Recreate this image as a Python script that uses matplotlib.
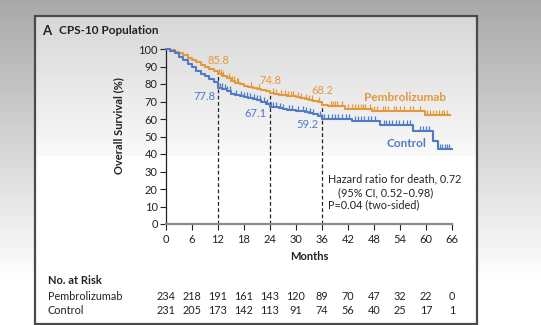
import matplotlib
matplotlib.use("Agg")
import matplotlib.pyplot as plt
import matplotlib.transforms as mtransforms
from matplotlib.patches import Rectangle
from matplotlib.path import Path
import numpy as np

plt.rcParams['font.family'] = ['Lato', 'DejaVu Sans']

ORANGE = '#E3983A'
BLUE = '#4E7AC6'

# Kaplan-Meier curves (month, % alive)
pem_t = [0, 1, 2, 3, 4, 5, 6, 7, 8, 9, 10, 11, 12, 13, 14, 15, 16, 17, 18, 19,
         20, 21, 22, 23, 24, 25, 26, 27, 28, 29, 30, 31, 32, 33, 34, 35, 36,
         37.3, 41.3, 47.5, 59.8, 65.5]
pem_s = [100, 99.5, 98.5, 97.5, 96.3, 95, 93.7, 92.3, 91, 89.6, 88.4, 87.2, 85.8,
         84.6, 83.4, 82, 80.6, 79.8, 79, 78.4, 77.8, 77.3, 76.7, 75.8, 74.8, 74.3,
         73.9, 73.6, 73.2, 72.9, 72.6, 72.2, 71.6, 71.0, 70.4, 69.6, 68.2, 67.4,
         66.0, 64.5, 62.3, 62.3]
ctl_t = [0, 1, 2, 3, 4, 5, 6, 7, 8, 9, 10, 11, 12, 13, 14, 15, 16, 17, 18, 19,
         20, 21, 22, 23, 24, 25, 26, 27, 28, 29, 30, 31, 32, 33, 34, 35, 36,
         43, 49.4, 57, 61.6, 62.8, 66]
ctl_s = [100, 99, 97.5, 95.5, 93.5, 91.5, 89.5, 87.5, 86, 84.5, 83, 81, 77.8, 77,
         76.2, 74.5, 73.6, 73, 72.6, 72.2, 71.6, 70.8, 70, 68.8, 67.1, 66.8, 66.3,
         65.8, 65.3, 65, 64.6, 64.3, 64, 63.4, 62.6, 61.5, 59.8, 58.9, 56.5, 53.2,
         47.5, 43, 43]

pem_cens = [12.3, 12.7, 13.2, 14.5, 15.2, 15.8, 16.3, 16.6, 19.5, 21.5, 24.8, 25.3,
            26.6, 27.5, 28.2, 28.8, 29.2, 30.5, 31.2, 32.4, 33.0, 33.6, 35.2, 38,
            38.5, 39, 39.5, 40.5, 42, 43, 43.5, 44.2, 45, 45.5, 46, 47, 48, 48.8,
            50, 50.6, 51.2, 52.5, 53, 54, 55, 56.2, 57, 58.6, 60.3, 61, 61.6,
            62.2, 63, 63.6, 64.2, 64.8]
ctl_cens = [12.4, 12.9, 13.5, 14.1, 14.8, 16.2, 17.2, 18.1, 18.8, 19.4, 20.2, 21.0,
            21.8, 22.5, 23.2, 24.3, 24.8, 25.3, 26.2, 27.0, 28.3, 29.0, 30.5, 31.5,
            32.3, 33.2, 34.0, 35.5, 36.5, 37.3, 38.2, 39, 39.8, 40.6, 41.5, 42.3,
            43.5, 44.3, 45, 45.8, 46.6, 47.4, 48.3, 50.2, 50.8, 51.5, 52.2, 53,
            53.8, 54.6, 55.5, 56.3, 58.5, 59.2, 60, 60.8, 63.3, 63.8, 64.3, 64.8,
            65.4]

landmarks = [12, 24, 36]
pem_marks = ['85.8', '74.8', '68.2']
ctl_marks = ['77.8', '67.1', '59.2']

xticks = list(range(0, 67, 6))
yticks = list(range(0, 101, 10))
risk_pem = [234, 218, 191, 161, 143, 120, 89, 70, 47, 32, 22, 0]
risk_ctl = [231, 205, 173, 142, 113, 91, 74, 56, 40, 25, 17, 1]


def surv_at(times, surv, x):
    i = np.searchsorted(times, x, side='right') - 1
    return surv[i]


fig = plt.figure(figsize=(5.41, 3.25), dpi=100)

# page background and panel frame, in pixel coordinates
bg = fig.add_axes([0, 0, 1, 1])
bg.set_xlim(0, 541)
bg.set_ylim(325, 0)
bg.axis('off')
outer = np.clip(np.linspace(0.66, 1.05, 325), 0, 1)
bg.imshow(outer[:, None], cmap='gray', vmin=0, vmax=1, aspect='auto',
          extent=(0, 541, 325, 0), zorder=0)
inner = np.concatenate([np.linspace(0.84, 0.975, 140), np.ones(168)])
bg.imshow(inner[:, None], cmap='gray', vmin=0, vmax=1, aspect='auto',
          extent=(35, 477, 324, 16), zorder=1)
bg.add_patch(Rectangle((35, 16), 442, 308, fill=False, ec='#4a4a4a', lw=1.6, zorder=2))
bg.text(42, 31, 'A', fontsize=9.5, fontweight='bold', color='#222222', va='center')
bg.text(59, 31, 'CPS-10 Population', fontsize=8.5, fontweight='bold', color='#222222',
        va='center')
bg.text(119, 126, 'Overall Survival (%)', fontsize=8, fontweight='bold', color='#222222',
        rotation=90, ha='center', va='center')

ax = fig.add_axes([166 / 541, 101 / 325, 286 / 541, 175 / 325])
ax.patch.set_alpha(0)

ax.step(pem_t, pem_s, where='post', color=ORANGE, lw=1.5, clip_on=False, zorder=3)
ax.step(ctl_t, ctl_s, where='post', color=BLUE, lw=1.5, clip_on=False, zorder=3)

tick_up = Path([(0, 0), (0, 1)], [Path.MOVETO, Path.LINETO])
ax.plot(pem_cens, [surv_at(pem_t, pem_s, c) for c in pem_cens], ls='none',
        marker=tick_up, ms=7, mew=0.9, color=ORANGE, zorder=3)
ax.plot(ctl_cens, [surv_at(ctl_t, ctl_s, c) for c in ctl_cens], ls='none',
        marker=tick_up, ms=7, mew=0.9, color=BLUE, zorder=3)

for m in landmarks:
    ax.plot([m, m], [0, surv_at(pem_t, pem_s, m)], color='#222222', lw=0.9,
            dashes=(3, 2), zorder=2)

pem_lab_xy = [(12, 93.2), (24, 82), (36.1, 76)]
ctl_lab_xy = [(11.4, 72.6), (23.3, 62.9), (35.3, 56.6)]
for (x, y), s in zip(pem_lab_xy, pem_marks):
    ax.text(x, y, s, color=ORANGE, fontsize=8, ha='center', va='center')
for (x, y), s in zip(ctl_lab_xy, ctl_marks):
    ax.text(x, y, s, color=BLUE, fontsize=8, ha='right', va='center')

ax.text(55.2, 72.4, 'Pembrolizumab', color=ORANGE, fontsize=8.5, fontweight='bold',
        ha='center', va='center')
ax.text(55.4, 46.1, 'Control', color=BLUE, fontsize=8.5, fontweight='bold',
        ha='center', va='center')

ax.text(37.4, 25.7, 'Hazard ratio for death, 0.72', fontsize=7.8, color='#222222',
        va='center')
ax.text(39.8, 18.1, '(95% CI, 0.52\u20130.98)', fontsize=7.8, color='#222222',
        va='center')
ax.text(37.4, 10.9, 'P=0.04 (two-sided)', fontsize=7.8, color='#222222', va='center')

ax.set_xlim(0, 66)
ax.set_ylim(0, 100)
ax.set_xticks(xticks)
ax.set_yticks(yticks)
ax.tick_params(axis='both', labelsize=8, colors='#222222', length=4, width=0.8, pad=2)
ax.tick_params(axis='x', pad=3)
for side in ['top', 'right']:
    ax.spines[side].set_visible(False)
ax.spines['left'].set_linewidth(0.9)
ax.spines['left'].set_color('#222222')
ax.spines['bottom'].set_linewidth(1.6)
ax.spines['bottom'].set_color('#8a8a8a')

# x label and number at risk table
bg.text(309, 257, 'Months', fontsize=8, fontweight='bold', color='#222222',
        ha='center', va='center')
bg.text(48, 281, 'No. at Risk', fontsize=8, fontweight='bold', color='#222222',
        va='center')
bg.text(48, 297, 'Pembrolizumab', fontsize=7.8, color='#222222', va='center')
bg.text(48, 311, 'Control', fontsize=7.8, color='#222222', va='center')
tr = mtransforms.blended_transform_factory(ax.transData, bg.transData)
for x, a, b in zip(xticks, risk_pem, risk_ctl):
    ax.text(x, 297, str(a), transform=tr, fontsize=7.8, color='#222222',
            ha='center', va='center')
    ax.text(x, 311, str(b), transform=tr, fontsize=7.8, color='#222222',
            ha='center', va='center')

fig.savefig('out.png', dpi=100)
